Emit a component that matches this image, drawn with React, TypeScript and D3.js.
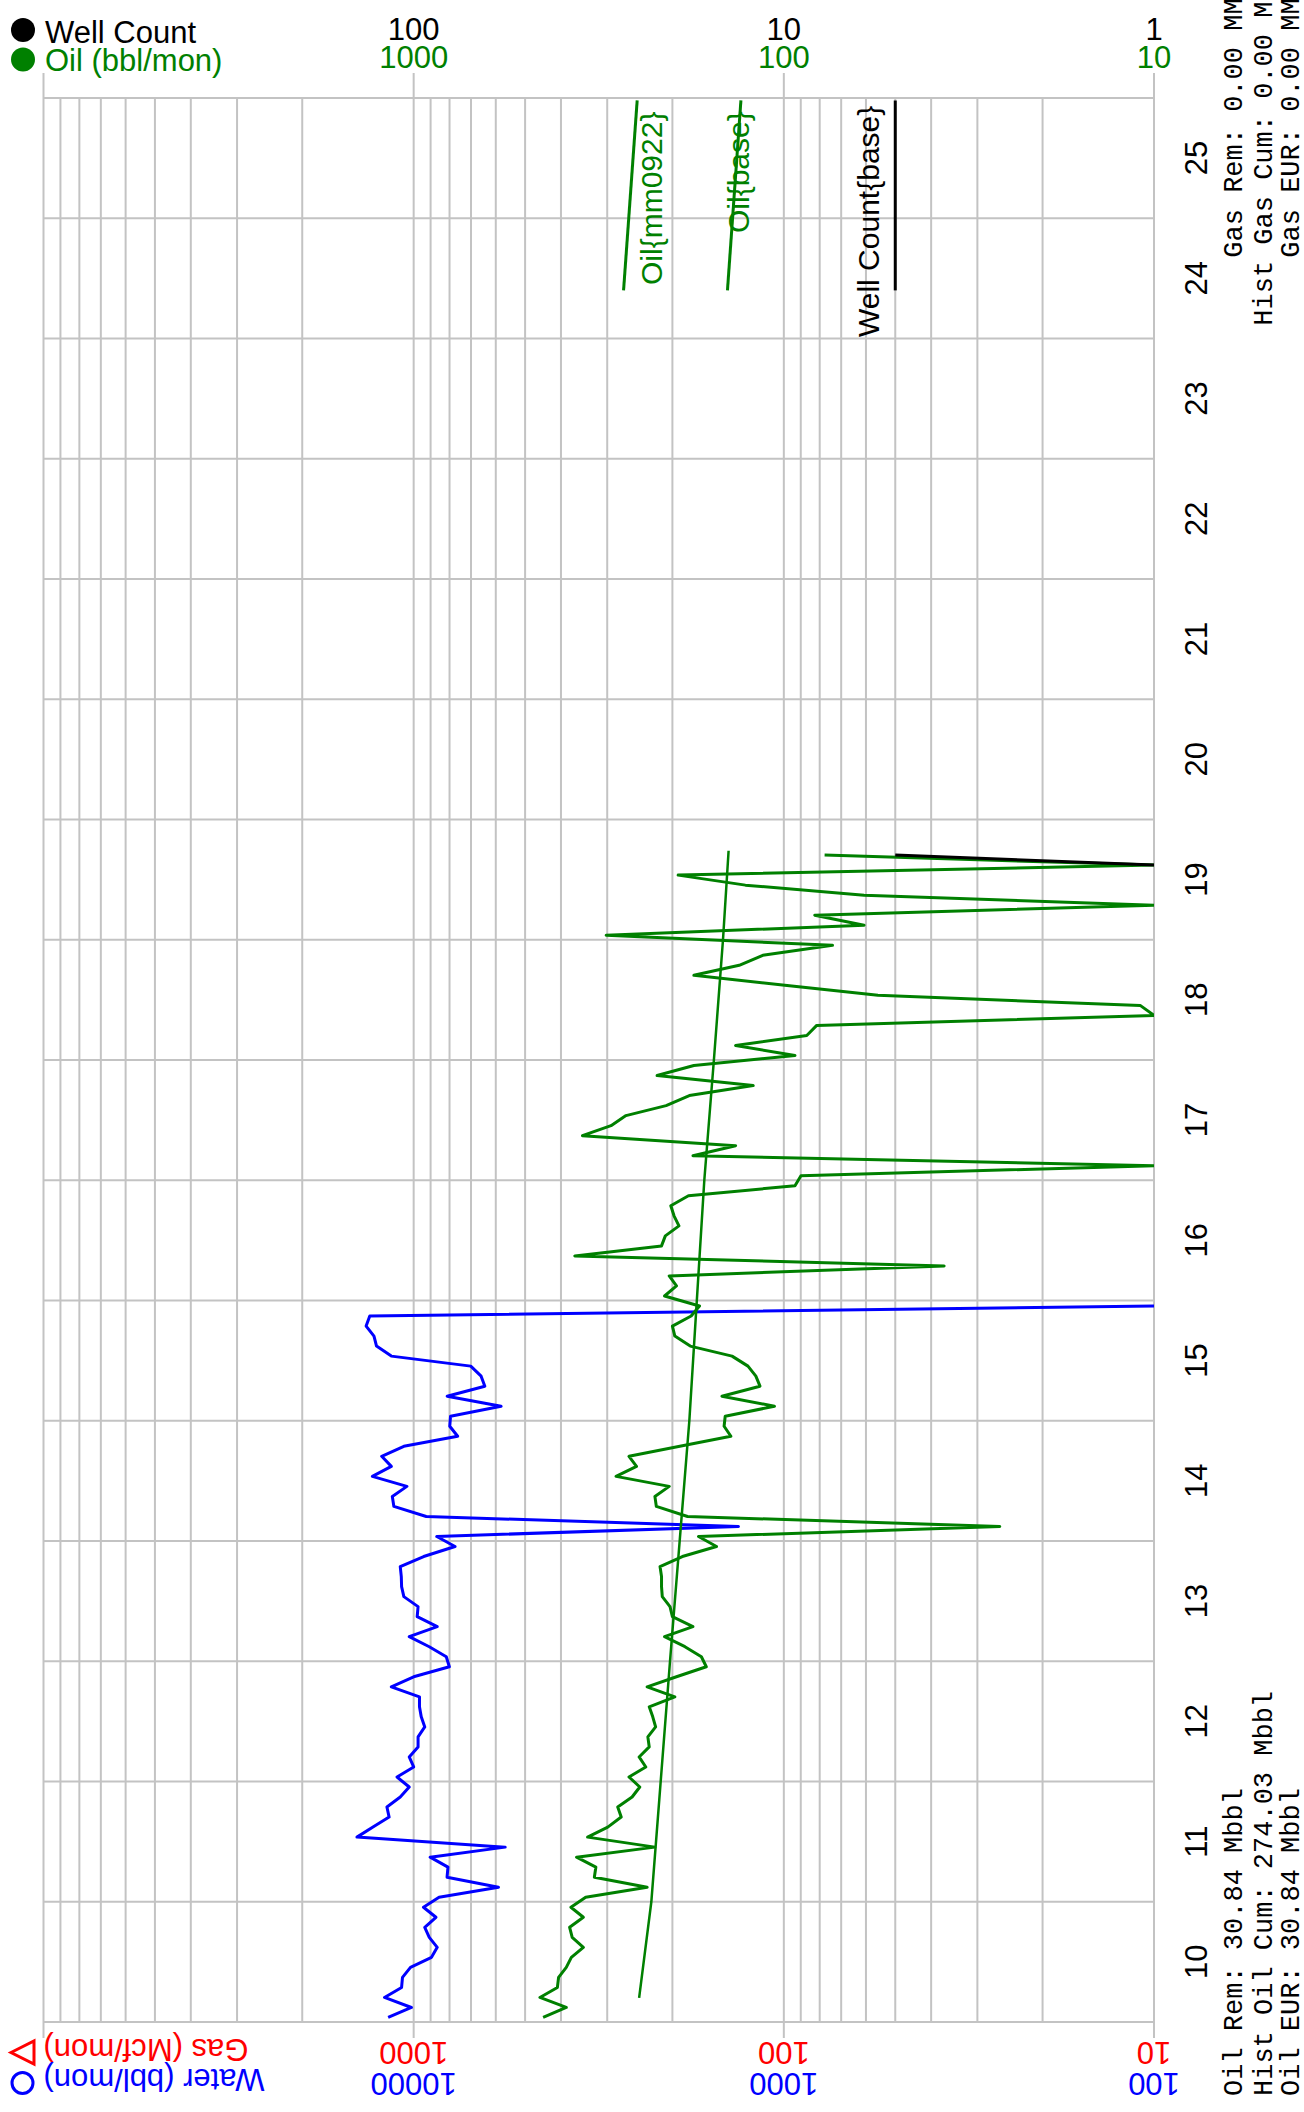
import React, { useEffect, useRef } from 'react';
import * as d3 from 'd3';

const WIDTH = 1304;
const HEIGHT = 2112;
const MARGIN = { TOP: 98, BOTTOM: 90, LEFT: 43.5, RIGHT: 150 };

const START_YEAR = 2010;
const END_YEAR = 2026;
const YEAR_LABELS = ['10', '11', '12', '13', '14', '15', '16', '17', '18', '19', '20', '21', '22', '23', '24', '25'];

// Oil rate (bbl/mon), one value per month from Jan 2010
const oilMonthly = [
  447, 387, 456, 409, 406, 387, 375, 348, 373, 379, 348, 376,
  343, 234, 325, 322, 363, 223, 339, 299, 275, 281, 257, 245,
  262, 236, 246, 231, 233, 222, 226, 231, 197, 234, 195, 162,
  167, 185, 210, 176, 200, 203, 213, 214, 214, 216, 188, 152,
  170, 26.1, 182, 221, 223, 204, 284, 250, 262, 191, 139, 145,
  144, 106, 147, 116, 119, 125, 138, 179, 197, 200, 178, 169,
  210, 195, 204, 36.9, 367, 214, 209, 192, 198, 202, 181, 93.3,
  89.9, 10, 176, 135, 350, 293, 267, 208, 180, 121, 220, 175,
  93.3, 135, 86.7, 81.5, 10, 10.9, 55.7, 99.4, 175, 132, 114, 73.9,
  302, 60.7, 82.5, 10, 60.7, 127, 193, 10, 77.6,
];

// Water rate (bbl/mon), one value per month from Jan 2010
const waterMonthly = [
  11720, 10140, 11990, 10780, 10720, 10200, 8950, 8636, 9075, 9333, 8706, 9408,
  8539, 5900, 8124, 8079, 9025, 5660, 14230, 12880, 11650, 11810, 10870, 10280,
  11090, 10000, 10280, 9730, 9730, 9333, 9539, 9645, 9645, 11490, 10000, 8009,
  8164, 9075, 10280, 8636, 9784, 9730, 10630, 10780, 10800, 10870, 9397, 7731,
  8660, 1326, 9247, 11310, 11420, 10430, 12930, 11490, 12200, 10630, 7606, 7990,
  7950, 5805, 8120, 6423, 6573, 7011, 11490, 12600, 12800, 13440, 13140, 100,
];

// Well count, only the last two months carry values
const wellCountMonth = [115, 116];
const wellCountValue = [1, 5];

// Oil forecast {base}
const forecastYear = [2010.2, 2011.0, 2011.85, 2013.0, 2015.0, 2017.0, 2018.0, 2019.0, 2019.74];
const forecastOil = [246, 228, 217, 203, 180, 164, 154.5, 146, 141];

// Axis tick labels
const wellTicks = [100, 10, 1];
const oilTicks = [1000, 100, 10];
const gasTicks = [1000, 100, 10];
const waterTicks = [10000, 1000, 100];

// Legend samples drawn inside the plot
const legendNames = ['Oil{mm0922}', 'Oil{base}', 'Well Count{base}'];
const legendFrom = [271, 142, 5];
const legendTo = [249, 130.6, 5];

const oilSummary = ['Oil Rem: 30.84 Mbbl', 'Hist Oil Cum: 274.03 Mbbl', 'Oil EUR: 30.84 Mbbl'];
const gasSummary = ['Gas Rem: 0.00 MMcf', 'Hist Gas Cum: 0.00 MMcf', 'Gas EUR: 0.00 MMcf'];

const GREEN = '#008000';
const BLUE = '#0000ff';
const RED = '#ff0000';
const GRID = '#c3c3c3';
const SANS = '"Liberation Sans", Arial, sans-serif';
const MONO = '"Liberation Mono", "Courier New", monospace';

const monthToYear = (m: number): number => START_YEAR + (m + 0.45) / 12;

export default function App(): JSX.Element {
  const svgRef = useRef<SVGSVGElement>(null);

  useEffect(() => {
    const svg = d3.select(svgRef.current);
    svg.selectAll('*').remove();

    const x0 = MARGIN.LEFT;
    const x1 = WIDTH - MARGIN.RIGHT;
    const y0 = MARGIN.TOP;
    const y1 = HEIGHT - MARGIN.BOTTOM;

    const oilScale = d3.scaleLog().domain([10000, 10]).range([x0, x1]);
    const waterScale = d3.scaleLog().domain([100000, 100]).range([x0, x1]);
    const wellScale = d3.scaleLog().domain([1000, 1]).range([x0, x1]);
    const gasScale = d3.scaleLog().domain([10000, 10]).range([x0, x1]);
    const timeScale = d3.scaleLinear().domain([START_YEAR, END_YEAR]).range([y1, y0]);

    // grid
    const grid = svg.append('g').attr('stroke', GRID).attr('stroke-width', 2);
    const minor: number[] = [];
    [10, 100, 1000].forEach((d) => {
      for (let k = 1; k < 10; k++) minor.push(k * d);
    });
    minor.push(10000);
    const major = [10, 100, 1000, 10000];
    grid
      .selectAll('line.v')
      .data(minor)
      .join('line')
      .attr('class', 'v')
      .attr('x1', (d) => oilScale(d))
      .attr('x2', (d) => oilScale(d))
      .attr('y1', (d) => (major.includes(d) ? y0 - 25 : y0))
      .attr('y2', (d) => (major.includes(d) ? y1 + 16 : y1));
    grid
      .selectAll('line.h')
      .data(d3.range(START_YEAR, END_YEAR + 1))
      .join('line')
      .attr('class', 'h')
      .attr('x1', x0)
      .attr('x2', x1)
      .attr('y1', (d) => timeScale(d))
      .attr('y2', (d) => timeScale(d));

    // data
    svg
      .append('clipPath')
      .attr('id', 'plot-clip')
      .append('rect')
      .attr('x', x0)
      .attr('y', y0)
      .attr('width', x1 - x0)
      .attr('height', y1 - y0);
    const plot = svg.append('g').attr('clip-path', 'url(#plot-clip)').attr('fill', 'none');

    const lineOil = d3
      .line<number>()
      .x((d) => oilScale(d))
      .y((_, i) => timeScale(monthToYear(i)));
    const lineWater = d3
      .line<number>()
      .x((d) => waterScale(d))
      .y((_, i) => timeScale(monthToYear(i)));

    plot
      .append('path')
      .attr('d', lineWater(waterMonthly))
      .attr('stroke', BLUE)
      .attr('stroke-width', 3)
      .attr('stroke-linejoin', 'round');
    plot
      .append('path')
      .attr('d', lineOil(oilMonthly))
      .attr('stroke', GREEN)
      .attr('stroke-width', 3)
      .attr('stroke-linejoin', 'round');

    const lineForecast = d3
      .line<number>()
      .x((d) => oilScale(d))
      .y((_, i) => timeScale(forecastYear[i]));
    plot
      .append('path')
      .attr('d', lineForecast(forecastOil))
      .attr('stroke', GREEN)
      .attr('stroke-width', 2.5);

    const lineWell = d3
      .line<number>()
      .x((d) => wellScale(d))
      .y((_, i) => timeScale(monthToYear(wellCountMonth[i])));
    plot
      .append('path')
      .attr('d', lineWell(wellCountValue))
      .attr('stroke', '#000')
      .attr('stroke-width', 3);

    // legend samples in the plot
    const legendTop = 2025.98;
    const legendBottom = 2024.4;
    legendNames.forEach((name, i) => {
      const sc = i === 2 ? wellScale : oilScale;
      const color = i === 2 ? '#000' : GREEN;
      plot
        .append('line')
        .attr('x1', sc(legendFrom[i]))
        .attr('y1', timeScale(legendBottom))
        .attr('x2', sc(legendTo[i]))
        .attr('y2', timeScale(legendTop))
        .attr('stroke', color)
        .attr('stroke-width', 3);
    });
    const legendLabel = [
      { x: 662, y: 285 },
      { x: 749, y: 233 },
      { x: 879, y: 337 },
    ];
    legendNames.forEach((name, i) => {
      svg
        .append('text')
        .attr('transform', `translate(${legendLabel[i].x},${legendLabel[i].y}) rotate(-90)`)
        .attr('font-family', SANS)
        .attr('font-size', 30)
        .attr('fill', i === 2 ? '#000' : GREEN)
        .text(name);
    });

    // top legend and axis labels
    const top = svg.append('g').attr('font-family', SANS).attr('font-size', 31);
    top.append('circle').attr('cx', 23).attr('cy', 30).attr('r', 12).attr('fill', '#000');
    top.append('circle').attr('cx', 23).attr('cy', 59.5).attr('r', 12).attr('fill', GREEN);
    top.append('text').attr('x', 45).attr('y', 42.5).attr('fill', '#000').text('Well Count');
    top.append('text').attr('x', 45).attr('y', 71).attr('fill', GREEN).text('Oil (bbl/mon)');
    top
      .selectAll('text.wt')
      .data(wellTicks)
      .join('text')
      .attr('class', 'wt')
      .attr('x', (d) => wellScale(d))
      .attr('y', 40)
      .attr('text-anchor', 'middle')
      .attr('fill', '#000')
      .text((d) => String(d));
    top
      .selectAll('text.ot')
      .data(oilTicks)
      .join('text')
      .attr('class', 'ot')
      .attr('x', (d) => oilScale(d))
      .attr('y', 68)
      .attr('text-anchor', 'middle')
      .attr('fill', GREEN)
      .text((d) => String(d));

    // bottom legend and axis labels, upside down
    const bottom = svg.append('g').attr('font-family', SANS).attr('font-size', 31);
    bottom
      .append('path')
      .attr('d', 'M11,2052.5 L34,2041 L34,2064 Z')
      .attr('fill', 'none')
      .attr('stroke', RED)
      .attr('stroke-width', 3);
    bottom
      .append('circle')
      .attr('cx', 22.5)
      .attr('cy', 2083)
      .attr('r', 10.5)
      .attr('fill', 'none')
      .attr('stroke', BLUE)
      .attr('stroke-width', 3);
    bottom
      .append('text')
      .attr('transform', `translate(${x0},2039) rotate(180)`)
      .attr('text-anchor', 'end')
      .attr('fill', RED)
      .text('Gas (Mcf/mon)');
    bottom
      .append('text')
      .attr('transform', `translate(${x0},2069) rotate(180)`)
      .attr('text-anchor', 'end')
      .attr('fill', BLUE)
      .text('Water (bbl/mon)');
    bottom
      .selectAll('text.gt')
      .data(gasTicks)
      .join('text')
      .attr('class', 'gt')
      .attr('transform', (d) => `translate(${gasScale(d)},2042) rotate(180)`)
      .attr('text-anchor', 'middle')
      .attr('fill', RED)
      .text((d) => String(d));
    bottom
      .selectAll('text.wat')
      .data(waterTicks)
      .join('text')
      .attr('class', 'wat')
      .attr('transform', (d) => `translate(${waterScale(d)},2073) rotate(180)`)
      .attr('text-anchor', 'middle')
      .attr('fill', BLUE)
      .text((d) => String(d));

    // year labels on the right
    svg
      .append('g')
      .attr('font-family', SANS)
      .attr('font-size', 31)
      .selectAll('text')
      .data(YEAR_LABELS)
      .join('text')
      .attr('transform', (d, i) => `translate(1207,${timeScale(START_YEAR + i + 0.5)}) rotate(-90)`)
      .attr('text-anchor', 'middle')
      .text((d) => d);

    // summary text
    const cols = [1242, 1272, 1299];
    const gasEnd = [-34, -47, -34];
    const summary = svg.append('g').attr('font-family', MONO).attr('font-size', 27);
    oilSummary.forEach((s, i) => {
      summary
        .append('text')
        .attr('transform', `translate(${cols[i]},2096) rotate(-90)`)
        .text(s);
    });
    gasSummary.forEach((s, i) => {
      summary
        .append('text')
        .attr('transform', `translate(${cols[i]},${gasEnd[i]}) rotate(-90)`)
        .attr('text-anchor', 'end')
        .text(s);
    });
  }, []);

  return (
    <svg
      ref={svgRef}
      width={WIDTH}
      height={HEIGHT}
      style={{ position: 'absolute', left: 0, top: 0, background: '#fff' }}
    />
  );
}
